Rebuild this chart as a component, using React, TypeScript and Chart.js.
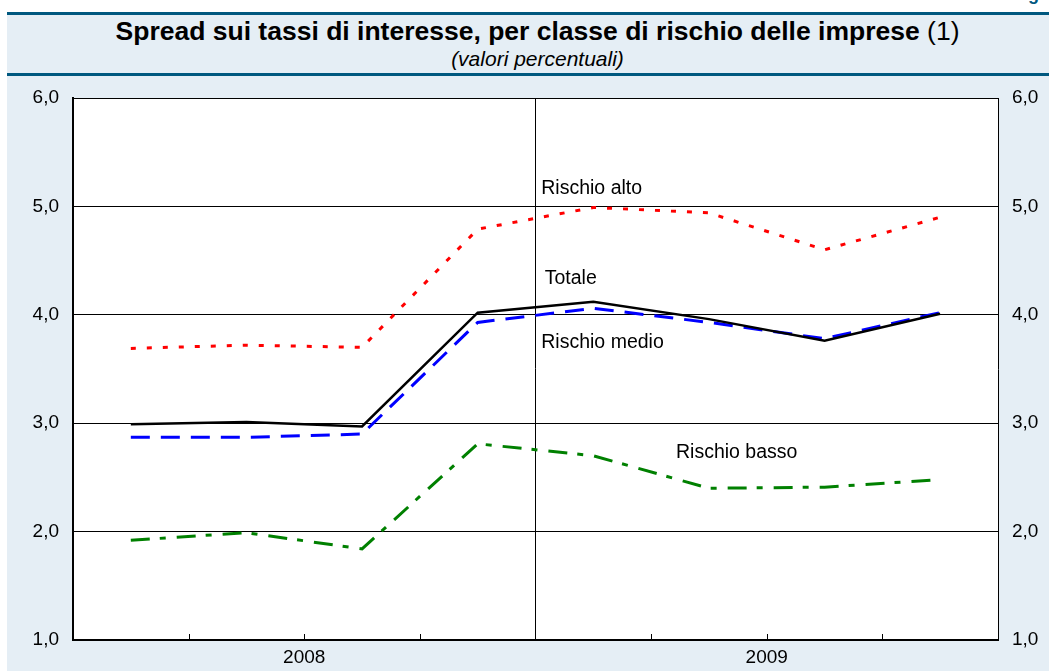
import React, { useEffect, useRef } from "react";
import { Chart, registerables } from "chart.js";

Chart.register(...registerables);

// ---- data ----
const quarters = ["2008 T1", "2008 T2", "2008 T3", "2008 T4", "2009 T1", "2009 T2", "2009 T3", "2009 T4"];
const yearLabels = ["2008", "2009"];
const rischioAlto = [3.69, 3.72, 3.70, 4.79, 4.99, 4.94, 4.60, 4.90];
const totale = [2.99, 3.01, 2.97, 4.02, 4.12, 3.96, 3.76, 4.01];
const rischioMedio = [2.87, 2.87, 2.90, 3.93, 4.06, 3.93, 3.78, 4.02];
const rischioBasso = [1.92, 1.99, 1.84, 2.81, 2.70, 2.40, 2.41, 2.48];
const yMin = 1;
const yMax = 6;

// label texts and their anchor positions (in data units)
const seriesLabels = ["Rischio alto", "Totale", "Rischio medio", "Rischio basso"];
const labelX = [4.05, 4.08, 4.05, 5.215];
const labelY = [5.16, 4.33, 3.74, 2.73];

const FONT = "'Liberation Sans', Arial, Helvetica, sans-serif";
const PANEL = "#e5eef5";
const DARK = "#00587f";

const pts = (arr: number[]) => arr.map((v, i) => ({ x: i + 0.5, y: v }));
const fmt = (v: number) => v.toFixed(1).replace(".", ",");

const decorPlugin = {
  id: "decor",
  beforeDraw(chart: any) {
    const { ctx, chartArea } = chart;
    ctx.save();
    ctx.fillStyle = "#ffffff";
    ctx.fillRect(chartArea.left, chartArea.top, chartArea.right - chartArea.left, chartArea.bottom - chartArea.top);
    ctx.restore();
  },
  afterDatasetsDraw(chart: any) {
    const { ctx, chartArea } = chart;
    const xs = chart.scales.x;
    const ys = chart.scales.y;
    ctx.save();
    // inward minor ticks on x axis
    ctx.strokeStyle = "#000";
    ctx.lineWidth = 1;
    for (let i = 1; i < quarters.length; i++) {
      if (i === quarters.length / 2) continue;
      const px = Math.round(xs.getPixelForValue(i)) + 0.5;
      ctx.beginPath();
      ctx.moveTo(px, chartArea.bottom);
      ctx.lineTo(px, chartArea.bottom - 6);
      ctx.stroke();
    }
    // series labels
    ctx.fillStyle = "#000";
    ctx.font = `19.5px ${FONT}`;
    ctx.textAlign = "left";
    ctx.textBaseline = "middle";
    seriesLabels.forEach((t, i) => {
      ctx.fillText(t, xs.getPixelForValue(labelX[i]), ys.getPixelForValue(labelY[i]));
    });
    ctx.restore();
  },
};

export default function App() {
  const ref = useRef<HTMLCanvasElement | null>(null);

  useEffect(() => {
    if (!ref.current) return;
    const chart = new Chart(ref.current, {
      type: "line",
      data: {
        datasets: [
          {
            label: "Totale",
            data: pts(totale),
            borderColor: "#000000",
            borderWidth: 2.5,
            pointRadius: 0,
            tension: 0,
          },
          {
            label: "Rischio medio",
            data: pts(rischioMedio),
            borderColor: "#0000ff",
            borderWidth: 3,
            borderDash: [19, 11],
            pointRadius: 0,
            tension: 0,
          },
          {
            label: "Rischio alto",
            data: pts(rischioAlto),
            borderColor: "#ff0000",
            borderWidth: 3,
            borderDash: [5, 11],
            pointRadius: 0,
            tension: 0,
          },
          {
            label: "Rischio basso",
            data: pts(rischioBasso),
            borderColor: "#008000",
            borderWidth: 3,
            borderDash: [19, 10, 6, 11],
            pointRadius: 0,
            tension: 0,
          },
        ],
      } as any,
      options: {
        animation: false,
        responsive: false,
        devicePixelRatio: 1,
        layout: { padding: { top: 98, left: 0, right: 0, bottom: 0 } },
        plugins: {
          legend: { display: false },
          tooltip: { enabled: false },
        },
        scales: {
          x: {
            type: "linear",
            position: "bottom",
            min: 0,
            max: quarters.length,
            ticks: {
              stepSize: 1,
              autoSkip: false,
              maxRotation: 0,
              padding: 6,
              color: "#000",
              font: { family: FONT, size: 19 },
              callback: (v: any) => {
                const idx = (Number(v) - 2) / 4;
                return Number.isInteger(idx) && yearLabels[idx] ? yearLabels[idx] : "";
              },
            },
            grid: {
              drawTicks: false,
              lineWidth: 1,
              color: (c: any) => (c.tick && c.tick.value === quarters.length / 2 ? "#000" : "rgba(0,0,0,0)"),
            },
            border: { display: true, color: "#000", width: 2 },
            afterFit: (s: any) => {
              s.height = 31;
            },
          },
          y: {
            type: "linear",
            position: "left",
            min: yMin,
            max: yMax,
            ticks: {
              stepSize: 1,
              padding: 14,
              color: "#000",
              font: { family: FONT, size: 19 },
              callback: (v: any) => fmt(Number(v)),
            },
            grid: { drawTicks: false, color: "#000", lineWidth: 1 },
            border: { display: true, color: "#000", width: 2 },
            afterFit: (s: any) => {
              s.width = 73;
            },
          },
          y2: {
            type: "linear",
            position: "right",
            min: yMin,
            max: yMax,
            ticks: {
              stepSize: 1,
              padding: 14,
              color: "#000",
              font: { family: FONT, size: 19 },
              callback: (v: any) => fmt(Number(v)),
            },
            grid: { drawTicks: false, drawOnChartArea: false },
            border: { display: true, color: "#000", width: 1 },
            afterFit: (s: any) => {
              s.width = 51;
            },
          },
        },
      } as any,
      plugins: [decorPlugin],
    });
    return () => chart.destroy();
  }, []);

  return (
    <div style={{ position: "absolute", left: 0, top: 0, width: 1049, height: 671, overflow: "hidden", background: "#fff" }}>
      <div style={{ position: "absolute", left: 7, top: 12, right: 0, bottom: 0, background: PANEL }} />
      <div style={{ position: "absolute", left: 7, top: 12, right: 0, height: 3, background: DARK }} />
      <div style={{ position: "absolute", left: 7, top: 73, right: 0, height: 3, background: DARK }} />
      <div
        style={{
          position: "absolute",
          left: 1028,
          top: -15,
          font: `bold 18px ${FONT}`,
          lineHeight: "18px",
          color: DARK,
        }}
      >
        g
      </div>
      <div
        style={{
          position: "absolute",
          left: 0,
          top: 16,
          width: 1075,
          textAlign: "center",
          fontFamily: FONT,
          fontSize: 26.5,
          lineHeight: "30px",
          color: "#000",
          whiteSpace: "nowrap",
        }}
      >
        <b>Spread sui tassi di interesse, per classe di rischio delle imprese</b> (1)
      </div>
      <div
        style={{
          position: "absolute",
          left: 0,
          top: 47,
          width: 1075,
          textAlign: "center",
          fontFamily: FONT,
          fontSize: 21,
          fontStyle: "italic",
          lineHeight: "24px",
          color: "#000",
          whiteSpace: "nowrap",
        }}
      >
        (valori percentuali)
      </div>
      <canvas ref={ref} width={1049} height={671} style={{ position: "absolute", left: 0, top: 0, width: 1049, height: 671 }} />
    </div>
  );
}
